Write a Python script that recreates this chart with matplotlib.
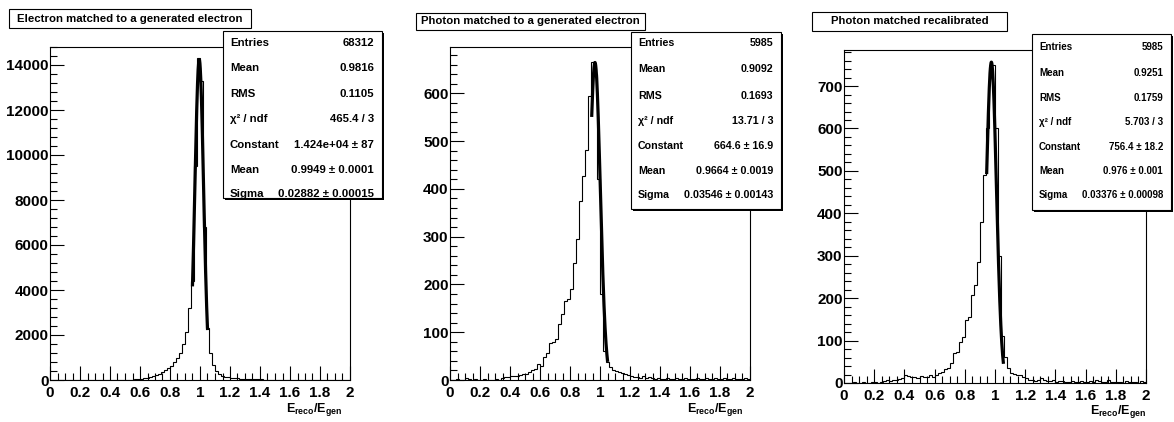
import numpy as np
import matplotlib.pyplot as plt
from matplotlib.patches import Rectangle
from matplotlib.ticker import MultipleLocator, FuncFormatter

plt.rcParams["font.family"] = ["Liberation Sans", "DejaVu Sans"]
plt.rcParams["font.weight"] = "bold"
plt.rcParams["mathtext.fontset"] = "custom"
plt.rcParams["mathtext.rm"] = "Liberation Sans:bold"
plt.rcParams["mathtext.it"] = "Liberation Sans:bold"
plt.rcParams["mathtext.bf"] = "Liberation Sans:bold"

# 100 bins of width 0.02 between 0 and 2
bin_edges = np.linspace(0, 2, 101)

electron_counts = [
    2, 3, 2, 3, 4, 3, 4, 5, 4, 5,
    5, 6, 6, 7, 8, 8, 9, 10, 10, 11,
    8, 9, 10, 11, 12, 14, 17, 22, 30, 42,
    60, 80, 100, 130, 170, 220, 270, 350, 430, 520,
    640, 800, 960, 1190, 1600, 2150, 3200, 4400, 9500, 14300,
    13300, 6800, 2300, 1185, 666, 400, 267, 178, 140, 119,
    95, 82, 70, 60, 50, 42, 37, 33, 30, 27,
    24, 21, 18, 15, 12, 9, 8, 7, 6, 6,
    5, 5, 4, 4, 4, 3, 3, 3, 3, 2,
    2, 2, 2, 2, 2, 1, 1, 1, 1, 1,
]

photon_counts = [
    1, 0, 2, 1, 0, 5, 3, 1, 2, 1,
    0, 2, 1, 1, 0, 2, 1, 4, 6, 7,
    8, 9, 8, 10, 12, 12, 17, 20, 22, 34,
    30, 48, 57, 77, 80, 86, 118, 138, 165, 170,
    191, 244, 296, 375, 428, 481, 595, 665, 640, 420,
    180, 60, 38, 28, 20, 18, 16, 14, 12, 10,
    8, 7, 6, 5, 8, 5, 6, 4, 3, 4,
    2, 3, 4, 2, 3, 5, 2, 3, 4, 2,
    3, 2, 4, 3, 2, 5, 3, 2, 4, 3,
    2, 4, 3, 2, 5, 3, 2, 3, 4, 2,
]

recal_counts = [
    1, 0, 1, 2, 0, 1, 2, 1, 0, 2,
    2, 1, 3, 4, 7, 5, 8, 6, 10, 12,
    20, 17, 14, 15, 12, 16, 13, 15, 18, 14,
    20, 24, 27, 33, 35, 46, 70, 74, 97, 109,
    149, 156, 208, 231, 286, 380, 490, 600, 745, 750,
    600, 300, 110, 62, 36, 24, 22, 20, 18, 15,
    12, 6, 8, 5, 6, 12, 8, 5, 4, 6,
    3, 5, 4, 3, 2, 4, 3, 2, 5, 3,
    2, 4, 3, 8, 5, 2, 3, 6, 2, 3,
    2, 3, 1, 4, 2, 3, 2, 1, 5, 2,
]

titles = ["Electron matched to a generated electron",
          "Photon matched to a generated electron",
          "Photon matched recalibrated"]

stat_names = ["Entries", "Mean", "RMS", "\u03c7\u00b2 / ndf", "Constant", "Mean", "Sigma"]
stat_values = [
    ["68312", "0.9816", "0.1105", "465.4 / 3", "1.424e+04 \u00b1 87",
     "0.9949 \u00b1 0.0001", "0.02882 \u00b1 0.00015"],
    ["5985", "0.9092", "0.1693", "13.71 / 3", "664.6 \u00b1 16.9",
     "0.9664 \u00b1 0.0019", "0.03546 \u00b1 0.00143"],
    ["5985", "0.9251", "0.1759", "5.703 / 3", "756.4 \u00b1 18.2",
     "0.976 \u00b1 0.001", "0.03376 \u00b1 0.00098"],
]

# gaussian fit results (constant, mean, sigma) and fit ranges
fit_params = [(14240, 0.9949, 0.02882), (664.6, 0.9664, 0.03546), (756.4, 0.976, 0.03376)]
fit_ranges = [(0.95, 1.05), (0.945, 1.05), (0.945, 1.055)]

y_max = [14800, 697, 785]
y_major = [2000, 100, 100]

W, H = 1174, 422
fig = plt.figure(figsize=(W / 100, H / 100), dpi=100)

def px_axes(l, t, r, b):
    return fig.add_axes([l / W, 1 - b / H, (r - l) / W, (b - t) / H])

# layout in pixels: axes, stats box, title box, row positions, x-label
axes_px = [(50, 47, 350, 380), (450, 47, 750, 380), (844, 50, 1146, 383)]
stats_px = [(223, 31, 382, 198), (631, 32, 781, 209), (1032, 34, 1171, 210)]
stats_size = [8.2, 7.7, 7.0]
title_px = [(9, 9, 251, 28), (416, 13, 645, 30), (812, 12, 1007, 31)]
rows_px = [[43, 68, 94, 119, 145, 170, 194],
           [43, 69, 96, 121, 146, 171, 195],
           [47, 73, 98, 122, 147, 171, 195]]
xlabel_px = [(342, 409), (743, 409), (1146, 412)]

all_counts = [electron_counts, photon_counts, recal_counts]

for k in range(3):
    ax = px_axes(*axes_px[k])
    ax.stairs(all_counts[k], bin_edges, color="black", linewidth=0.8)
    amp, mu, sig = fit_params[k]
    xf = np.linspace(fit_ranges[k][0], fit_ranges[k][1], 200)
    ax.plot(xf, amp * np.exp(-0.5 * ((xf - mu) / sig) ** 2), color="black", linewidth=2.3)

    ax.set_xlim(0, 2)
    ax.set_ylim(0, y_max[k])
    ax.xaxis.set_major_locator(MultipleLocator(0.2))
    ax.xaxis.set_minor_locator(MultipleLocator(0.05))
    ax.yaxis.set_major_locator(MultipleLocator(y_major[k]))
    ax.yaxis.set_minor_locator(MultipleLocator(y_major[k] / 5))
    ax.xaxis.set_major_formatter(FuncFormatter(lambda v, p: "%g" % round(v, 2)))
    ax.yaxis.set_major_formatter(FuncFormatter(lambda v, p: "%d" % v))
    ax.tick_params(which="major", direction="in", length=10, width=0.8,
                   labelsize=11, pad=1, top=False, right=False)
    ax.tick_params(which="minor", direction="in", length=5, width=0.8,
                   top=False, right=False)
    ax.tick_params(axis="x", pad=4)
    for lab in ax.get_xticklabels() + ax.get_yticklabels():
        lab.set_fontweight("bold")
    # the zero label on y sits a little higher, as in the original
    ax.get_yticklabels()[0].set_verticalalignment("bottom")
    for sp in ax.spines.values():
        sp.set_linewidth(0.8)

# overlay in pixel coordinates for the boxes and labels
ov = fig.add_axes([0, 0, 1, 1])
ov.set_xlim(0, W)
ov.set_ylim(H, 0)
ov.axis("off")

for k in range(3):
    x0, y0, x1, y1 = stats_px[k]
    ov.add_patch(Rectangle((x0 + 2, y0 + 2), x1 - x0, y1 - y0, facecolor="black"))
    ov.add_patch(Rectangle((x0, y0), x1 - x0, y1 - y0, facecolor="white",
                           edgecolor="black", linewidth=0.8))
    for name, val, yy in zip(stat_names, stat_values[k], rows_px[k]):
        ov.text(x0 + 7, yy, name, fontsize=stats_size[k], ha="left", va="center",
                fontweight="bold")
        ov.text(x1 - 8, yy, val, fontsize=stats_size[k], ha="right", va="center",
                fontweight="bold")

    tx0, ty0, tx1, ty1 = title_px[k]
    ov.add_patch(Rectangle((tx0, ty0), tx1 - tx0, ty1 - ty0, facecolor="white",
                           edgecolor="black", linewidth=0.8))
    ov.text((tx0 + tx1) / 2, (ty0 + ty1) / 2, titles[k], fontsize=8.2,
            ha="center", va="center", fontweight="bold")

    lx, ly = xlabel_px[k]
    ov.text(lx, ly, r"$\mathrm{E_{reco}/E_{gen}}$", fontsize=9, ha="right", va="center")

fig.savefig("out.png", dpi=100)
